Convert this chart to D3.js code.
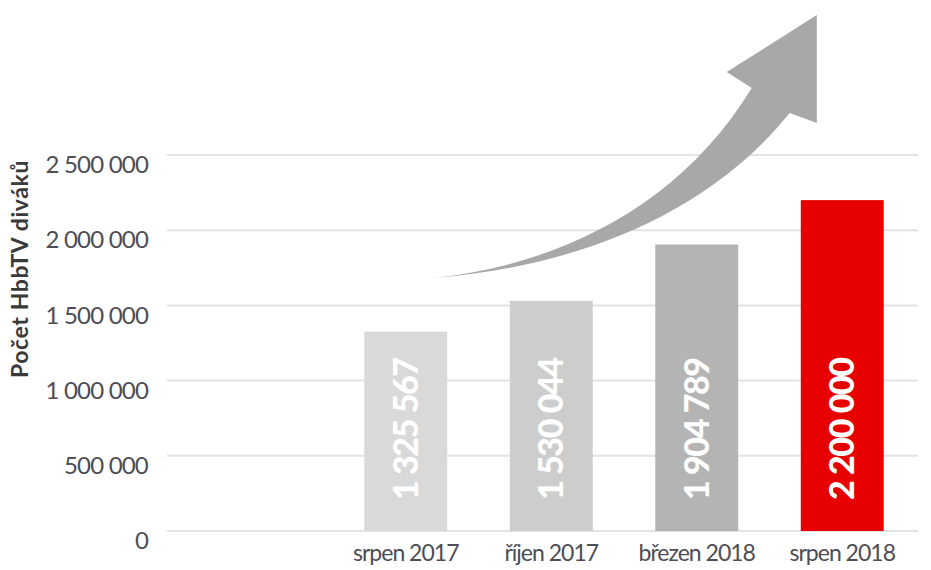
<!DOCTYPE html>
<html>
<head>
<meta charset="utf-8">
<script src="https://cdn.jsdelivr.net/npm/d3@7/dist/d3.min.js"></script>
<style>
  body { margin: 0; background: #fff; }
  svg { display: block; }
</style>
</head>
<body>
<svg id="chart"></svg>
<script>
// data
var categories = ["srpen 2017", "říjen 2017", "březen 2018", "srpen 2018"];
var values = [1325567, 1530044, 1904789, 2200000];
var valueLabels = ["1 325 567", "1 530 044", "1 904 789", "2 200 000"];
var barColors = ["#d9d9d9", "#cdcdcd", "#b4b4b4", "#e60000"];
var yTicks = [0, 500000, 1000000, 1500000, 2000000, 2500000];
var yTickLabels = ["0", "500 000", "1 000 000", "1 500 000", "2 000 000", "2 500 000"];
var yTitle = "Počet HbbTV diváků";

var width = 931, height = 570;
var font = "Lato, 'Open Sans', sans-serif";

var svg = d3.select("#chart")
    .attr("width", width)
    .attr("height", height);

var x = d3.scaleBand()
    .domain(categories)
    .range([333, 915])
    .paddingInner(0.43)
    .paddingOuter(0.215);

var y = d3.scaleLinear()
    .domain([0, 2500000])
    .range([531, 155]);

// gridlines
svg.append("g")
  .selectAll("line")
  .data(yTicks)
  .enter().append("line")
    .attr("x1", 167)
    .attr("x2", 918)
    .attr("y1", function(d) { return y(d); })
    .attr("y2", function(d) { return y(d); })
    .style("stroke", "#e3e3e3")
    .style("stroke-width", 2);

// y axis labels (sit a little below their gridline)
var yAxis = d3.axisLeft(y)
    .tickValues(yTicks)
    .tickSize(0)
    .tickPadding(0)
    .tickFormat(function(d, i) { return yTickLabels[i]; });

svg.append("g")
    .attr("transform", "translate(148,0)")
    .call(yAxis)
    .call(function(g) { g.select(".domain").remove(); })
    .selectAll("text")
      .attr("dy", "0.74em")
      .style("font-family", font)
      .style("font-size", "24px")
      .style("letter-spacing", "-0.8px")
      .style("fill", "#4d4d55");

// y title
svg.append("text")
    .attr("transform", "translate(28,269) rotate(-90)")
    .attr("text-anchor", "middle")
    .style("font-family", font)
    .style("font-weight", "bold")
    .style("font-size", "23px")
    .style("letter-spacing", "0.6px")
    .style("fill", "#3a3a3a")
    .text(yTitle);

// growth arrow, placed in band/value units
var step = x.step();
function ax(u) { return x(categories[0]) + x.bandwidth() / 2 + u * step; }
var arrow = [
  [0.186, 1682000], [1.058, 1770000], [1.883, 2160000], [2.378, 2945000],
  [2.206, 3052000], [2.825, 3431000], [2.825, 2713000], [2.639, 2779000],
  [2.158, 2201000], [1.333, 1769000]
].map(function(p) { return [ax(p[0]), y(p[1])]; });

var a = arrow;
var arrowPath = "M" + a[0] +
    "C" + a[1] + " " + a[2] + " " + a[3] +
    "L" + a[4] + "L" + a[5] + "L" + a[6] + "L" + a[7] +
    "C" + a[8] + " " + a[9] + " " + a[0] + "Z";

svg.append("path")
    .attr("d", arrowPath)
    .style("fill", "#a8a8a8");

// bars
svg.selectAll(".bar")
    .data(values)
  .enter().append("rect")
    .attr("class", "bar")
    .attr("x", function(d, i) { return x(categories[i]); })
    .attr("width", x.bandwidth())
    .attr("y", function(d) { return y(d); })
    .attr("height", function(d) { return y(0) - y(d); })
    .style("fill", function(d, i) { return barColors[i]; });

// value labels inside bars
svg.selectAll(".val")
    .data(values)
  .enter().append("text")
    .attr("class", "val")
    .attr("transform", function(d, i) {
      return "translate(" + (x(categories[i]) + x.bandwidth() / 2 + 12) + "," + (y(0) - 31) + ") rotate(-90)";
    })
    .attr("text-anchor", "start")
    .style("font-family", font)
    .style("font-weight", "900")
    .style("font-size", "34px")
    .style("letter-spacing", "-1.4px")
    .style("fill", "#fff")
    .text(function(d, i) { return valueLabels[i]; });

// category labels
svg.append("g")
    .attr("transform", "translate(0," + (y(0) + 6) + ")")
    .call(d3.axisBottom(x).tickSize(0).tickPadding(8))
    .call(function(g) { g.select(".domain").remove(); })
    .selectAll("text")
      .style("font-family", font)
      .style("font-size", "23px")
      .style("letter-spacing", "-1px")
      .style("fill", "#4d4d55");
</script>
</body>
</html>
